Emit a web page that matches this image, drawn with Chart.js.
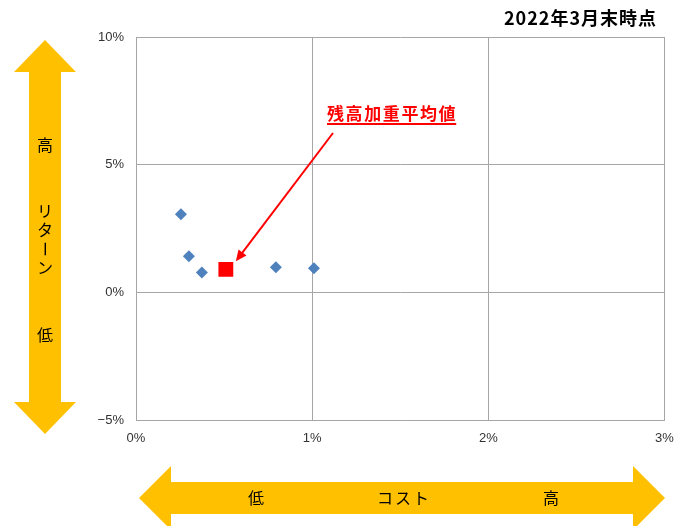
<!DOCTYPE html>
<html>
<head>
<meta charset="utf-8">
<script src="https://cdn.jsdelivr.net/npm/chart.js@4.4.0/dist/chart.umd.min.js"></script>
<style>
  html, body { margin: 0; padding: 0; background: #fff; }
  #wrap { width: 675px; height: 526px; position: relative; }
</style>
</head>
<body>
<div id="wrap"><canvas id="chart"></canvas></div>
<script>
// cost (%) and return (%) of each fund
const fundCost = [0.255, 0.30, 0.374, 0.794, 1.01];
const fundReturn = [3.06, 1.41, 0.78, 0.98, 0.94];
// balance-weighted average
const avgCost = [0.51];
const avgReturn = [0.90];

const xTicks = [0, 1, 2, 3];
const yTicks = [-5, 0, 5, 10];

const titleText = '2022年3月末時点';
const noteText = '残高加重平均値';

const JP = '"Noto Sans CJK JP", sans-serif';
const TICK_FONT = '"Liberation Sans Narrow", "Liberation Sans", sans-serif';
const YELLOW = '#FFC000';

function toPoints(xs, ys) {
    return xs.map((x, i) => ({ x: x, y: ys[i] }));
}

// yellow double arrows, title and the annotation arrow
const decorations = {
    id: 'decorations',
    afterDraw(chart) {
        const ctx = chart.ctx;
        ctx.save();

        // vertical arrow (return)
        ctx.fillStyle = YELLOW;
        ctx.beginPath();
        ctx.moveTo(45, 40);
        ctx.lineTo(76, 72);
        ctx.lineTo(61, 72);
        ctx.lineTo(61, 402);
        ctx.lineTo(76, 402);
        ctx.lineTo(45, 434);
        ctx.lineTo(14, 402);
        ctx.lineTo(29, 402);
        ctx.lineTo(29, 72);
        ctx.lineTo(14, 72);
        ctx.closePath();
        ctx.fill();

        // horizontal arrow (cost)
        ctx.beginPath();
        ctx.moveTo(139, 498);
        ctx.lineTo(171, 466);
        ctx.lineTo(171, 482);
        ctx.lineTo(633, 482);
        ctx.lineTo(633, 466);
        ctx.lineTo(665, 498);
        ctx.lineTo(633, 530);
        ctx.lineTo(633, 514);
        ctx.lineTo(171, 514);
        ctx.lineTo(171, 530);
        ctx.closePath();
        ctx.fill();

        ctx.fillStyle = '#000';
        ctx.font = '16px ' + JP;
        ctx.textAlign = 'center';
        ctx.textBaseline = 'middle';
        ctx.fillText('高', 45, 145);
        ['リ', 'タ'].forEach((c, i) => ctx.fillText(c, 45, 211 + i * 19));
        ctx.save();
        ctx.translate(45, 249);
        ctx.rotate(Math.PI / 2);
        ctx.fillText('ー', 0, 0);
        ctx.restore();
        ctx.fillText('ン', 45, 268);
        ctx.fillText('低', 45, 335);

        ctx.fillText('低', 256, 498);
        ctx.fillText('高', 551, 498);
        ctx.letterSpacing = '2px';
        ctx.fillText('コスト', 404, 498);

        // title
        ctx.font = 'bold 18px ' + JP;
        ctx.textAlign = 'right';
        ctx.letterSpacing = '1px';
        ctx.fillText(titleText, 657, 18);

        // annotation
        ctx.fillStyle = '#FF0000';
        ctx.font = 'bold 17px ' + JP;
        ctx.textAlign = 'left';
        ctx.letterSpacing = '1.6px';
        ctx.fillText(noteText, 327, 114);
        const w = ctx.measureText(noteText).width;
        ctx.fillRect(327, 123, w - 1, 2);
        ctx.letterSpacing = '0px';

        const xs = chart.scales.x, ys = chart.scales.y;
        const px = xs.getPixelForValue(avgCost[0]);
        const py = ys.getPixelForValue(avgReturn[0]);
        const x0 = 333, y0 = 133;
        const x1 = px + 10, y1 = py - 8;
        const ang = Math.atan2(y1 - y0, x1 - x0);
        ctx.strokeStyle = '#FF0000';
        ctx.lineWidth = 2;
        ctx.beginPath();
        ctx.moveTo(x0, y0);
        ctx.lineTo(x1 - 8 * Math.cos(ang), y1 - 8 * Math.sin(ang));
        ctx.stroke();
        ctx.beginPath();
        ctx.moveTo(x1, y1);
        ctx.lineTo(x1 - 11 * Math.cos(ang) + 5 * Math.sin(ang), y1 - 11 * Math.sin(ang) - 5 * Math.cos(ang));
        ctx.lineTo(x1 - 11 * Math.cos(ang) - 5 * Math.sin(ang), y1 - 11 * Math.sin(ang) + 5 * Math.cos(ang));
        ctx.closePath();
        ctx.fill();

        ctx.restore();
    }
};

new Chart(document.getElementById('chart'), {
    type: 'scatter',
    data: {
        datasets: [
            {
                label: '残高加重平均値',
                data: toPoints(avgCost, avgReturn),
                pointStyle: 'rect',
                pointRadius: 10.5,
                backgroundColor: '#FF0000',
                borderColor: '#FF0000',
                borderWidth: 0,
                order: 0
            },
            {
                label: 'ファンド',
                data: toPoints(fundCost, fundReturn),
                pointStyle: 'rectRot',
                pointRadius: 6,
                backgroundColor: '#4F81BD',
                borderColor: '#4F81BD',
                borderWidth: 0,
                order: 1
            }
        ]
    },
    options: {
        responsive: true,
        maintainAspectRatio: false,
        animation: false,
        layout: { padding: { left: 0, right: 10, top: 37, bottom: 76 } },
        plugins: {
            legend: { display: false },
            tooltip: { enabled: false }
        },
        scales: {
            x: {
                type: 'linear',
                min: 0,
                max: 3,
                afterBuildTicks: (s) => { s.ticks = xTicks.map(v => ({ value: v })); },
                afterFit: (s) => { s.height = 30; s.paddingLeft = 0; s.paddingRight = 0; },
                ticks: {
                    color: '#333',
                    font: { family: TICK_FONT, size: 13 },
                    padding: 11,
                    callback: (v) => v + '%'
                },
                grid: { color: '#A6A6A6', drawTicks: false },
                border: { color: '#A6A6A6' }
            },
            y: {
                type: 'linear',
                min: -5,
                max: 10,
                afterBuildTicks: (s) => { s.ticks = yTicks.map(v => ({ value: v })); },
                afterFit: (s) => { s.width = 136; s.paddingTop = 0; s.paddingBottom = 0; },
                ticks: {
                    color: '#333',
                    font: { family: TICK_FONT, size: 13 },
                    padding: 12,
                    callback: (v) => (v < 0 ? '\u2212' + Math.abs(v) : v) + '%'
                },
                grid: { color: '#A6A6A6', drawTicks: false },
                border: { color: '#A6A6A6' }
            }
        }
    },
    plugins: [decorations]
});
</script>
</body>
</html>
